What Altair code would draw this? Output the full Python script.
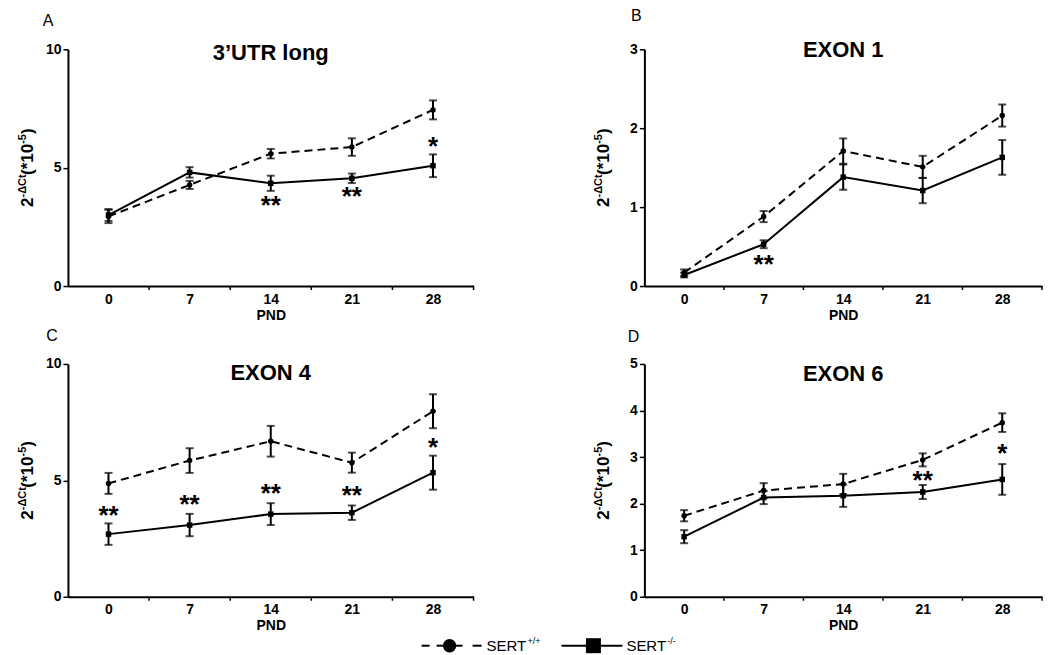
import altair as alt
import pandas as pd

# ---------------- data ----------------
PND = [0, 7, 14, 21, 28]
BETWEEN = [3.5, 10.5, 17.5, 24.5, 31.5]
GENOTYPES = ["SERT+/+", "SERT-/-"]

A_title = "3’UTR long"
A_wt = [2.94, 4.27, 5.59, 5.87, 7.44]
A_wt_err = [0.28, 0.17, 0.20, 0.37, 0.40]
A_ko = [3.00, 4.80, 4.34, 4.55, 5.08]
A_ko_err = [0.25, 0.22, 0.32, 0.20, 0.48]
A_yticks = [0, 5, 10]
A_star_x = [14, 21, 28]
A_star_y = [3.52, 3.89, 6.01]
A_star = ["**", "**", "*"]

B_title = "EXON 1"
B_wt = [0.17, 0.88, 1.71, 1.51, 2.16]
B_wt_err = [0.04, 0.07, 0.16, 0.14, 0.14]
B_ko = [0.14, 0.53, 1.38, 1.21, 1.63]
B_ko_err = [0.03, 0.05, 0.16, 0.16, 0.22]
B_yticks = [0, 1, 2, 3]
B_star_x = [7]
B_star_y = [0.31]
B_star = ["**"]

C_title = "EXON 4"
C_wt = [4.87, 5.85, 6.68, 5.76, 7.97]
C_wt_err = [0.45, 0.53, 0.66, 0.43, 0.73]
C_ko = [2.69, 3.08, 3.55, 3.61, 5.33]
C_ko_err = [0.46, 0.48, 0.47, 0.31, 0.73]
C_yticks = [0, 5, 10]
C_star_x = [0, 7, 14, 21, 28]
C_star_y = [3.58, 4.05, 4.56, 4.44, 6.53]
C_star = ["**", "**", "**", "**", "*"]

D_title = "EXON 6"
D_wt = [1.74, 2.28, 2.42, 2.94, 3.74]
D_wt_err = [0.12, 0.16, 0.22, 0.14, 0.20]
D_ko = [1.29, 2.13, 2.17, 2.25, 2.52]
D_ko_err = [0.14, 0.14, 0.24, 0.15, 0.33]
D_yticks = [0, 1, 2, 3, 4, 5]
D_star_x = [21, 28]
D_star_y = [2.56, 3.12]
D_star = ["**", "*"]

YTITLE = [("2", False), ("-ΔCt", True), ("(*10", False), ("-5", True), (")", False)]

# ---------------- helpers ----------------
FONT = "Liberation Sans"
ONE = pd.DataFrame({"k": [0]})
CW = {"2": 0.556, "-": 0.333, "Δ": 0.667, "C": 0.722, "t": 0.333, "(": 0.333,
      "*": 0.389, "1": 0.556, "0": 0.556, "5": 0.556, ")": 0.333}
BIG, SMALL = 17, 11


def text_len(s, fs):
    return sum(CW.get(c, 0.55) for c in s) * fs


def ytitle_layers(h):
    total = sum(text_len(s, SMALL if sup else BIG) for s, sup in YTITLE)
    y0 = h / 2 + total / 2
    layers = []
    off = 0.0
    for s, sup in YTITLE:
        fs = SMALL if sup else BIG
        layers.append(
            alt.Chart(ONE).mark_text(
                angle=270, align="left", baseline="alphabetic", font=FONT,
                fontSize=fs, fontWeight="bold", color="black",
                dx=off, dy=-7 if sup else 0,
            ).encode(x=alt.value(-35), y=alt.value(y0), text=alt.value(s))
        )
        off += text_len(s, fs)
    return layers


def legend_layers(h):
    ly = h + 49
    L = []
    for x1, x2 in [(354, 362), (369, 395), (405, 414)]:
        L.append(alt.Chart(ONE).mark_rule(color="black", strokeWidth=2).encode(
            x=alt.value(x1), x2=alt.value(x2), y=alt.value(ly)))
    L.append(alt.Chart(ONE).mark_point(shape="circle", filled=True, size=180, color="black", opacity=1).encode(
        x=alt.value(382), y=alt.value(ly)))
    L.append(alt.Chart(ONE).mark_rule(color="black", strokeWidth=2).encode(
        x=alt.value(494), x2=alt.value(555), y=alt.value(ly)))
    L.append(alt.Chart(ONE).mark_point(shape="square", filled=True, size=225, color="black", opacity=1).encode(
        x=alt.value(526), y=alt.value(ly)))
    for xt, main, sup in [(419, "SERT", "+/+"), (559, "SERT", "-/-")]:
        L.append(alt.Chart(ONE).mark_text(align="left", baseline="middle", font=FONT, fontSize=15, color="black").encode(
            x=alt.value(xt), y=alt.value(ly), text=alt.value(main)))
        L.append(alt.Chart(ONE).mark_text(align="left", baseline="middle", font=FONT, fontSize=9, color="black").encode(
            x=alt.value(xt + 41), y=alt.value(ly - 5), text=alt.value(sup)))
    return L


def panel(letter, title, wt, wt_err, ko, ko_err, yticks, sx, sy, st, w, h,
          letter_xy, title_y, legend=False):
    rows = []
    for g, vals, errs in ((GENOTYPES[0], wt, wt_err), (GENOTYPES[1], ko, ko_err)):
        for p, v, e in zip(PND, vals, errs):
            rows.append({"pnd": p, "val": v, "lo": v - e, "hi": v + e, "geno": g})
    df = pd.DataFrame(rows)

    xaxis = alt.Axis(values=PND, ticks=False, title="PND", labelPadding=6, titlePadding=2, format="d")
    xs = alt.Scale(domain=[-3.5, 31.5], nice=False, zero=False)
    ys = alt.Scale(domain=[yticks[0], yticks[-1]], nice=False)
    yaxis = alt.Axis(values=yticks, title=None, tickSize=5, labelPadding=2, format="d")
    X = alt.X("pnd:Q", scale=xs, axis=xaxis)
    Y = alt.Y("val:Q", scale=ys, axis=yaxis)

    base = alt.Chart(df)
    layers = [
        base.transform_filter(alt.datum.geno == GENOTYPES[0]).mark_line(
            color="black", strokeWidth=2, strokeDash=[8, 5]).encode(x=X, y=Y),
        base.transform_filter(alt.datum.geno == GENOTYPES[1]).mark_line(
            color="black", strokeWidth=2).encode(x=X, y=Y),
        base.mark_errorbar(ticks=True, size=8, thickness=2, color="black").encode(
            x=X, y=alt.Y("lo:Q", scale=ys, axis=yaxis), y2="hi:Q"),
        base.mark_point(filled=True, size=30, color="black", opacity=1).encode(
            x=X, y=Y,
            shape=alt.Shape("geno:N", scale=alt.Scale(domain=GENOTYPES, range=["circle", "square"]), legend=None)),
        alt.Chart(pd.DataFrame({"pnd": sx, "val": sy, "t": st})).mark_text(
            font=FONT, fontSize=26, fontWeight="bold", baseline="alphabetic", dy=11, color="black").encode(
            x=X, y=Y, text="t:N"),
        alt.Chart(pd.DataFrame({"pnd": BETWEEN})).mark_rule(color="black", strokeWidth=1.5).encode(
            x=X, y=alt.value(h), y2=alt.value(h + 4)),
        alt.Chart(ONE).mark_text(font=FONT, fontSize=22, fontWeight="bold", baseline="middle", color="black").encode(
            x=alt.value(w / 2), y=alt.value(title_y), text=alt.value(title)),
        alt.Chart(ONE).mark_text(font=FONT, fontSize=16, baseline="middle", align="center", color="black").encode(
            x=alt.value(letter_xy[0]), y=alt.value(letter_xy[1]), text=alt.value(letter)),
    ]
    layers += ytitle_layers(h)
    if legend:
        layers += legend_layers(h)
    return alt.layer(*layers).properties(width=w, height=h)


pA = panel("A", A_title, A_wt, A_wt_err, A_ko, A_ko_err, A_yticks, A_star_x, A_star_y, A_star,
           406, 237, (-20, -28), 4)
pB = panel("B", B_title, B_wt, B_wt_err, B_ko, B_ko_err, B_yticks, B_star_x, B_star_y, B_star,
           398, 237, (-8, -33), 1)
pC = panel("C", C_title, C_wt, C_wt_err, C_ko, C_ko_err, C_yticks, C_star_x, C_star_y, C_star,
           406, 233, (-16, -28), 9, legend=True)
pD = panel("D", D_title, D_wt, D_wt_err, D_ko, D_ko_err, D_yticks, D_star_x, D_star_y, D_star,
           398, 233, (-11, -27), 10)

chart = alt.concat(pA, pB, pC, pD, columns=2, bounds="flush", align="each",
                   spacing={"row": 78, "column": 171}).properties(
    padding={"left": 9, "top": 0, "right": 5, "bottom": 0}
).configure_view(stroke=None).configure_axis(
    grid=False, domainColor="black", domainWidth=2, tickColor="black", tickWidth=1.5,
    labelFont=FONT, labelFontSize=14, labelFontWeight="bold", labelColor="black",
    titleFont=FONT, titleFontSize=14, titleFontWeight="bold", titleColor="black",
)

chart.save("out.html", embed_options={"renderer": "svg", "actions": False})
